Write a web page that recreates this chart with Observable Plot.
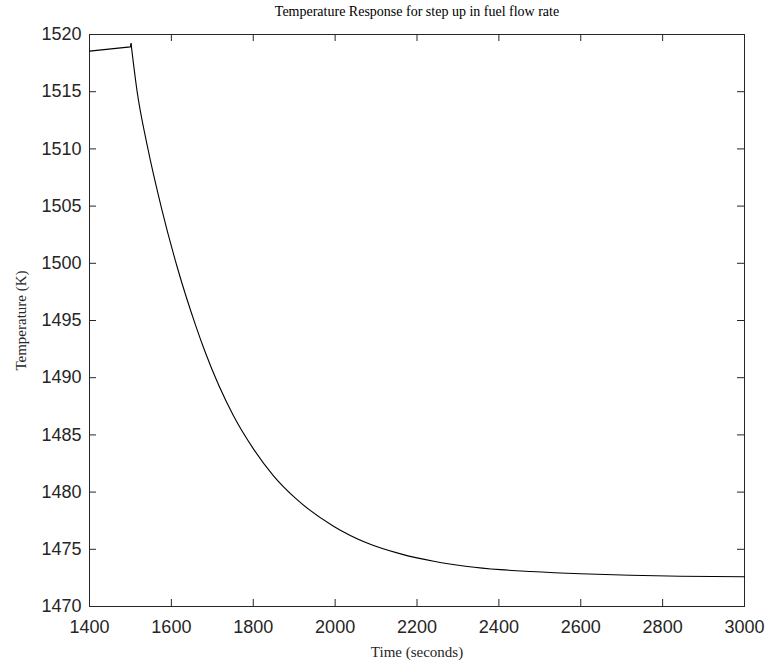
<!DOCTYPE html>
<html>
<head>
<meta charset="utf-8">
<script src="https://cdn.jsdelivr.net/npm/d3@7"></script>
<script src="https://cdn.jsdelivr.net/npm/@observablehq/plot@0.6"></script>
<style>
  html, body { margin: 0; padding: 0; background: #fff; }
</style>
</head>
<body>
<div id="chart"></div>
<script>
// Simulated furnace temperature after a step increase in fuel flow
const timeSeconds = [1400, 1500, 1501.5, 1516, 1541, 1576, 1614, 1659, 1683, 1752, 1800, 1850, 1905, 1997, 2078, 2160, 2241, 2323, 2404, 2477, 2599, 2721, 2844, 3000];
const temperatureK = [1518.55, 1518.92, 1519.2, 1515.1, 1510.3, 1504.8, 1499.7, 1494.6, 1492.2, 1486.65, 1483.8, 1481.4, 1479.4, 1477.0, 1475.55, 1474.6, 1473.95, 1473.5, 1473.22, 1473.06, 1472.86, 1472.73, 1472.65, 1472.6];

const xTicks = [1400, 1600, 1800, 2000, 2200, 2400, 2600, 2800, 3000];
const yTicks = [1470, 1475, 1480, 1485, 1490, 1495, 1500, 1505, 1510, 1515, 1520];

const titleText = "Temperature Response for step up in fuel flow rate";
const xLabelText = "Time (seconds)";
const yLabelText = "Temperature (K)";

const series = timeSeconds.map((t, i) => ({t, T: temperatureK[i]}));
// steady segment before the step (straight), then the decay (smooth)
const beforeStep = series.slice(0, 3);
const afterStep = series.slice(2);

const W = 767, H = 666;
const mL = 89, mR = 23, mT = 34, mB = 60;
const innerW = W - mL - mR, innerH = H - mT - mB;
const tickLen = 7;
const axisColor = "#262626";
const serif = "'Liberation Serif', 'Times New Roman', serif";
const fmt = d => String(d);

const chart = Plot.plot({
  width: W,
  height: H,
  marginLeft: mL,
  marginRight: mR,
  marginTop: mT,
  marginBottom: mB,
  style: {fontFamily: "'Liberation Sans', Arial, Helvetica, sans-serif", fontSize: "18px", color: axisColor, background: "#fff"},
  x: {domain: [1400, 3000]},
  y: {domain: [1470, 1520]},
  marks: [
    // inward ticks on all four sides
    Plot.tickX(xTicks, {x: d => d, stroke: axisColor, insetTop: innerH - tickLen}),
    Plot.tickX(xTicks, {x: d => d, stroke: axisColor, insetBottom: innerH - tickLen}),
    Plot.tickY(yTicks, {y: d => d, stroke: axisColor, insetRight: innerW - tickLen}),
    Plot.tickY(yTicks, {y: d => d, stroke: axisColor, insetLeft: innerW - tickLen}),
    Plot.axisX(xTicks, {tickSize: 0, tickPadding: 14, tickFormat: fmt, label: null, fill: axisColor, fontSize: 18}),
    Plot.axisY(yTicks, {tickSize: 0, tickPadding: 8, tickFormat: fmt, label: null, fill: axisColor, fontSize: 18}),
    Plot.frame({stroke: axisColor, strokeWidth: 1}),
    Plot.line(beforeStep, {x: "t", y: "T", stroke: "#000", strokeWidth: 1.1}),
    Plot.line(afterStep, {x: "t", y: "T", stroke: "#000", strokeWidth: 1.1, curve: "monotone-x"}),
    Plot.text([titleText], {frameAnchor: "top", dy: -28, fontFamily: serif, fontSize: 14, fill: "#000"}),
    Plot.text([xLabelText], {frameAnchor: "bottom", dy: 50, fontFamily: serif, fontSize: 15, fill: axisColor}),
    Plot.text([yLabelText], {frameAnchor: "left", dx: -68, rotate: -90, textAnchor: "middle", fontFamily: serif, fontSize: 15, fill: axisColor})
  ]
});

document.getElementById("chart").appendChild(chart);
</script>
</body>
</html>
